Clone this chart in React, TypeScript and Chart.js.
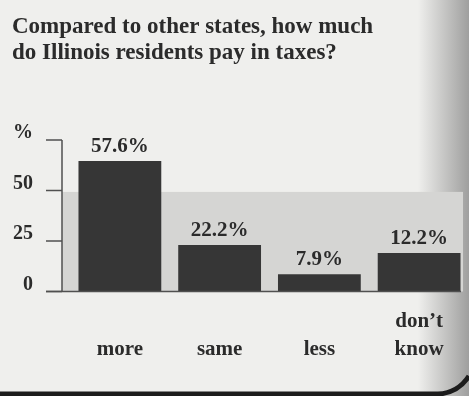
import React, { useEffect, useRef } from 'react';
import { Chart, registerables } from 'chart.js';

Chart.register(...registerables);

// ---- data ----
const titleLines = ['Compared to other states, how much', 'do Illinois residents pay in taxes?'];
const categories = ['more', 'same', 'less', 'don’t know'];
// heights of the bars as printed (read against the axis)
const barHeights = [64.6, 23.0, 8.5, 19.0];
// percentages printed above the bars
const reportedPercent = [57.6, 22.2, 7.9, 12.2];
const yTicks = [0, 25, 50, 75];
const yTopLabel = '%';
const shadedBandTop = 49.3;

const FONT = '"Liberation Serif", "Times New Roman", serif';
const INK = '#2b2b2b';

const paperPlugin = {
  id: 'paper',
  beforeDraw(chart: any) {
    const { ctx, width, height } = chart;
    ctx.save();
    ctx.fillStyle = '#efefed';
    ctx.fillRect(0, 0, width, height);
    const g = ctx.createLinearGradient(418, 0, width, 0);
    g.addColorStop(0, 'rgba(110,110,110,0)');
    g.addColorStop(1, 'rgba(110,110,110,0.62)');
    ctx.fillStyle = g;
    ctx.fillRect(418, 0, width - 418, height);
    ctx.restore();
  },
  afterDraw(chart: any) {
    const { ctx, width, height } = chart;
    ctx.save();
    ctx.strokeStyle = '#1c1c1c';
    ctx.lineWidth = 5;
    ctx.beginPath();
    ctx.moveTo(0, height - 2);
    ctx.lineTo(438, height - 2);
    ctx.quadraticCurveTo(458, height - 3, width, height - 20);
    ctx.stroke();
    ctx.restore();
  },
};

const axisPlugin = {
  id: 'axisDecor',
  beforeDatasetsDraw(chart: any) {
    const { ctx, chartArea, scales } = chart;
    const y = scales.y;
    const axisX = chartArea.left - 8;
    const y0 = y.getPixelForValue(0);
    const yb = y.getPixelForValue(shadedBandTop);
    ctx.save();
    ctx.fillStyle = '#d5d5d3';
    ctx.fillRect(axisX, yb, chartArea.right - 6 - axisX, y0 - yb);
    ctx.strokeStyle = '#505050';
    ctx.lineWidth = 1.5;
    ctx.beginPath();
    ctx.moveTo(axisX, y.getPixelForValue(yTicks[yTicks.length - 1]));
    ctx.lineTo(axisX, y0);
    yTicks.forEach((t) => {
      const py = y.getPixelForValue(t);
      ctx.moveTo(axisX - 16, py);
      ctx.lineTo(axisX, py);
    });
    ctx.stroke();
    ctx.restore();
  },
  afterDatasetsDraw(chart: any) {
    const { ctx, chartArea, scales } = chart;
    const y = scales.y;
    const axisX = chartArea.left - 8;
    const y0 = y.getPixelForValue(0);
    ctx.save();
    ctx.strokeStyle = '#505050';
    ctx.lineWidth = 1.5;
    ctx.beginPath();
    ctx.moveTo(axisX - 16, y0);
    ctx.lineTo(chartArea.right - 8, y0);
    ctx.stroke();
    // value labels
    ctx.fillStyle = INK;
    ctx.font = `bold 21px ${FONT}`;
    ctx.textAlign = 'center';
    ctx.textBaseline = 'alphabetic';
    const meta = chart.getDatasetMeta(0);
    meta.data.forEach((bar: any, i: number) => {
      ctx.fillText(`${reportedPercent[i]}%`, bar.x, bar.y - 9);
    });
    ctx.restore();
  },
};

export default function App() {
  const ref = useRef<HTMLCanvasElement | null>(null);

  useEffect(() => {
    if (!ref.current) return;
    const chart = new Chart(ref.current, {
      type: 'bar',
      data: {
        labels: categories,
        datasets: [
          {
            data: barHeights,
            backgroundColor: '#363636',
            borderWidth: 0,
            barPercentage: 0.83,
            categoryPercentage: 1,
          },
        ],
      },
      options: {
        animation: false,
        responsive: false,
        layout: { padding: { left: 12, right: 0, top: 0, bottom: 0 } },
        plugins: {
          legend: { display: false },
          tooltip: { enabled: false },
          title: {
            display: true,
            text: titleLines,
            align: 'start',
            color: INK,
            font: { family: FONT, size: 23, weight: 'bold', lineHeight: 26 / 23 },
            padding: { top: 14, bottom: 74 },
          },
        },
        scales: {
          x: {
            grid: { display: false, drawTicks: false },
            border: { display: false },
            ticks: {
              color: INK,
              font: { family: FONT, size: 21, weight: 'bold', lineHeight: 28 / 21 },
              padding: 16,
              maxRotation: 0,
              autoSkip: false,
              callback: (_v: any, i: number) => {
                const parts = categories[i].split(' ');
                return parts.length > 1 ? parts : ['', parts[0]];
              },
            },
            afterFit: (s: any) => {
              s.height = 104.5;
            },
          },
          y: {
            min: yTicks[0],
            max: yTicks[yTicks.length - 1],
            grid: { display: false, drawTicks: false },
            border: { display: false },
            ticks: {
              stepSize: 25,
              padding: 37,
              labelOffset: -7,
              color: INK,
              font: { family: FONT, size: 20, weight: 'bold' },
              callback: (v: any) => (v === yTicks[yTicks.length - 1] ? yTopLabel : String(v)),
            },
            afterFit: (s: any) => {
              s.width = 58;
            },
          },
        },
      },
      plugins: [paperPlugin, axisPlugin],
    } as any);
    return () => chart.destroy();
  }, []);

  return (
    <div style={{ position: 'fixed', left: 0, top: 0, width: 469, height: 396 }}>
      <canvas ref={ref} width={469} height={396} style={{ display: 'block' }} />
    </div>
  );
}
